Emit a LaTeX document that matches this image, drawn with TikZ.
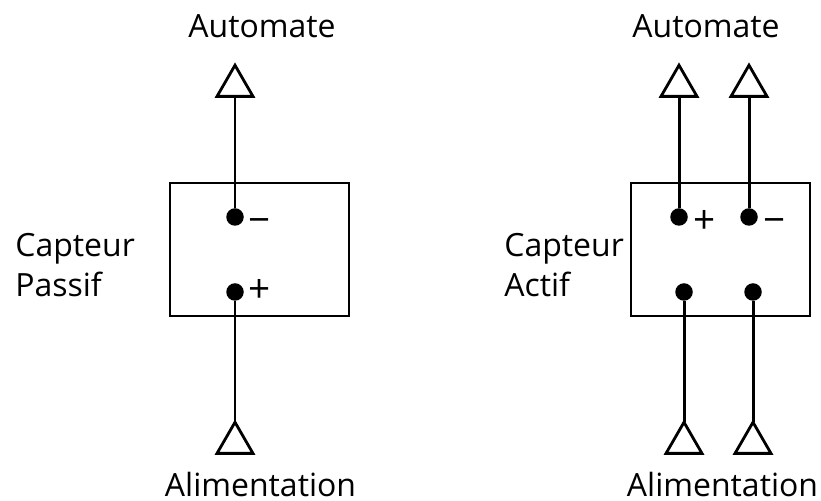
\documentclass[tikz,border=0pt]{standalone}
\usepackage{fontspec}
\setmainfont{Open Sans}
\usetikzlibrary{shapes.geometric}
\begin{document}
\begin{tikzpicture}[
		capteur/.style={draw,line width=1.6pt,minimum width=3.58cm,minimum height=2.66cm,inner sep=0pt},
		borne/.style={circle,fill=black,minimum size=0.35cm,inner sep=0pt},
		fleche/.style={regular polygon,regular polygon sides=3,draw,line width=1.6pt,minimum size=0.83cm,inner sep=0pt,outer sep=0pt},
		fil/.style={line width=1.7pt},
		etiquette/.style={font=\fontsize{18.2}{22.7}\selectfont,inner sep=0pt},
		signe/.style={font=\fontsize{22}{24}\selectfont,inner sep=0pt}
	]
	\useasboundingbox (0,0) rectangle (16.42,10.02);
	\node[capteur] (boitierP) at (5.19,5.03) {};
	\node[borne] (moinsP) at (4.70,5.68) {};
	\node[borne] (plusP) at (4.70,4.18) {};
	\node[fleche] (hautP) at (4.70,8.30) {};
	\node[fleche] (basP) at (4.70,1.16) {};
	\draw[fil] (hautP.south) -- (moinsP);
	\draw[fil] (plusP) -- (basP.corner 1);
	\node[signe] (signeMoinsP) at (5.20,5.50) {\textminus};
	\node[signe] (signePlusP) at (5.20,4.20) {+};
	\node[etiquette] (automateP) at (5.24,9.50) {Automate};
	\node[etiquette] (alimP) at (5.21,0.33) {Alimentation};
	\node[etiquette,align=left,anchor=west] (nomP) at (0.30,4.72) {Capteur\\Passif};

	\node[capteur] (boitierA) at (14.41,5.03) {};
	\node[borne] (plusA) at (13.58,5.68) {};
	\node[borne] (moinsA) at (14.98,5.68) {};
	\node[borne] (entreeA) at (13.68,4.18) {};
	\node[borne] (sortieA) at (15.06,4.18) {};
	\node[fleche] (hautPlusA) at (13.58,8.30) {};
	\node[fleche] (hautMoinsA) at (14.98,8.30) {};
	\node[fleche] (basEntreeA) at (13.68,1.16) {};
	\node[fleche] (basSortieA) at (15.06,1.16) {};
	\draw[fil] (hautPlusA.south) -- (plusA);
	\draw[fil] (hautMoinsA.south) -- (moinsA);
	\draw[fil] (entreeA) -- (basEntreeA.corner 1);
	\draw[fil] (sortieA) -- (basSortieA.corner 1);
	\node[signe] (signePlusA) at (14.10,5.58) {+};
	\node[signe] (signeMoinsA) at (15.50,5.50) {\textminus};
	\node[etiquette] (automateA) at (14.12,9.50) {Automate};
	\node[etiquette] (alimA) at (14.45,0.33) {Alimentation};
	\node[etiquette,align=left,anchor=west] (nomA) at (10.08,4.72) {Capteur\\Actif};
\end{tikzpicture}
\end{document}
